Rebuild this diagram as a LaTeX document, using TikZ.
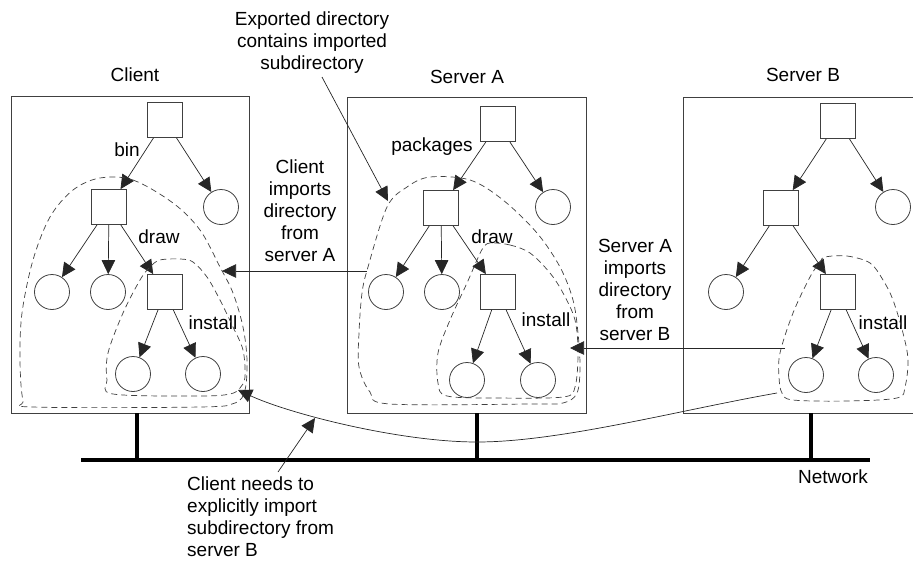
\documentclass[tikz,border=0pt]{standalone}
\usepackage{fontspec}
\setmainfont{Liberation Sans}
\usetikzlibrary{arrows.meta}
\begin{document}
\begin{tikzpicture}[x=1pt,y=-1pt,
  txt/.style={font=\fontsize{19}{22}\selectfont, inner sep=1pt},
  dirnode/.style={draw=black!75, line width=0.8pt, rectangle, minimum size=35pt, inner sep=0pt},
  filenode/.style={draw=black!75, line width=0.8pt, circle, minimum size=35pt, inner sep=0pt},
  tip/.style={-{Triangle[length=14pt,width=13.5pt]}},
  treeedge/.style={draw=black!85, line width=0.7pt, tip},
  note/.style={draw=black!85, line width=0.7pt, tip},
  blob/.style={draw=black!75, line width=0.7pt, dash pattern=on 6pt off 4pt},
  box/.style={draw=black!75, line width=0.8pt},
  net/.style={draw=black, line width=3.2pt}
]
\useasboundingbox (0,0) rectangle (913,562);

% ---------- boxes ----------
\draw[box] (11,96) rectangle (249,413);
\draw[box] (347,97) rectangle (586,413);
\draw[box] (913,97) -- (683,97) -- (683,413) -- (913,413);
\node[txt] (lc) at (135,75) {Client};
\node[txt] (la) at (467,77) {Server A};
\node[txt] (lb) at (803,75) {Server B};

% ---------- client tree ----------
\node[dirnode] (c0) at (165,120) {};
\node[dirnode] (c1) at (109,207) {};
\node[filenode] (c2) at (221,207) {};
\node[filenode] (c3) at (52,292) {};
\node[filenode] (c4) at (108,292) {};
\node[dirnode] (c5) at (165,292) {};
\node[filenode] (c6) at (133,374) {};
\node[filenode] (c7) at (203,374) {};
\draw[treeedge] (c0) -- (c1);
\draw[treeedge] (c0) -- (c2);
\draw[treeedge] (c1) -- (c3);
\draw[treeedge] (c1) -- (c4);
\draw[treeedge] (c1) -- (c5);
\draw[treeedge] (c5) -- (c6);
\draw[treeedge] (c5) -- (c7);
\node[txt] (cbin) at (127,150) {bin};
\node[txt] (cdraw) at (159,237) {draw};
\node[txt] (cinst) at (213,323) {install};

% ---------- server A tree ----------
\node[dirnode] (a0) at (498,124) {};
\node[dirnode] (a1) at (441,208) {};
\node[filenode] (a2) at (553,207) {};
\node[filenode] (a3) at (386,292) {};
\node[filenode] (a4) at (442,292) {};
\node[dirnode] (a5) at (498,292) {};
\node[filenode] (a6) at (467,380) {};
\node[filenode] (a7) at (538,380) {};
\draw[treeedge] (a0) -- (a1);
\draw[treeedge] (a0) -- (a2);
\draw[treeedge] (a1) -- (a3);
\draw[treeedge] (a1) -- (a4);
\draw[treeedge] (a1) -- (a5);
\draw[treeedge] (a5) -- (a6);
\draw[treeedge] (a5) -- (a7);
\node[txt] (apk) at (432,147) {packages};
\node[txt] (adraw) at (492,237) {draw};
\node[txt] (ainst) at (546,320) {install};

% ---------- server B tree ----------
\node[dirnode] (b0) at (838,121) {};
\node[dirnode] (b1) at (781,208) {};
\node[filenode] (b2) at (893,207) {};
\node[filenode] (b3) at (726,292) {};
\node[dirnode] (b5) at (838,292) {};
\node[filenode] (b6) at (806,375) {};
\node[filenode] (b7) at (876,375) {};
\draw[treeedge] (b0) -- (b1);
\draw[treeedge] (b0) -- (b2);
\draw[treeedge] (b1) -- (b3);
\draw[treeedge] (b1) -- (b5);
\draw[treeedge] (b5) -- (b6);
\draw[treeedge] (b5) -- (b7);
\node[txt] (binst) at (883,323) {install};

% ---------- dashed regions ----------
\draw[blob] plot[smooth cycle, tension=0.55] coordinates {(100,178) (133,180) (173,203) (200,230) (220,267) (233,293) (243,327) (247,360) (245,390) (235,403) (200,407) (33,407) (23,400) (20,360) (22,313) (33,260) (50,217) (73,190)};
\draw[blob] plot[smooth cycle, tension=0.55] coordinates {(160,260) (180,259) (193,262) (207,277) (220,300) (233,327) (243,350) (245,377) (240,388) (230,394) (200,396) (113,394) (107,380) (108,353) (123,313) (140,280) (150,267)};
\draw[blob] plot[smooth cycle, tension=0.55] coordinates {(430,177) (470,180) (503,200) (537,233) (560,267) (573,300) (578,333) (580,367) (577,393) (563,403) (530,404) (390,404) (370,392) (359,367) (359,333) (362,293) (368,267) (387,207) (407,187)};
\draw[blob] plot[smooth cycle, tension=0.55] coordinates {(490,243) (510,245) (530,253) (550,273) (563,293) (575,320) (578,353) (575,387) (563,397) (497,398) (447,396) (438,383) (438,353) (450,320) (467,283) (477,260) (483,248)};
\draw[blob] plot[smooth cycle, tension=0.55] coordinates {(825,257) (847,256) (870,263) (883,280) (893,300) (903,333) (908,360) (905,387) (897,398) (847,401) (793,400) (782,393) (779,377) (780,353) (793,313) (810,277) (820,262)};

% ---------- network ----------
\coordinate (nl) at (81,460);
\coordinate (nr) at (870,460);
\coordinate (sc) at (137,413);
\coordinate (sa) at (477,413);
\coordinate (sb) at (811,413);
\draw[net] (nl) -- (nr);
\draw[net] (sc) -- (sc |- nl);
\draw[net] (sa) -- (sa |- nl);
\draw[net] (sb) -- (sb |- nl);
\node[txt] (lnet) at (833,477) {Network};

% ---------- annotations ----------
\node[txt, align=center] (t1) at (312,43) {Exported directory\\contains imported\\subdirectory};
\coordinate (t1e) at (388,201);
\draw[note] (t1.south) ++(10,2) coordinate (t1s) -- (t1e);

\node[txt, align=center] (t2) at (300,211) {Client\\imports\\directory\\from\\server A};
\coordinate (t2s) at (367,271);
\coordinate (t2e) at (222,271);
\draw[note] (t2s) -- (t2e);

\node[txt, align=center] (t3) at (635,290) {Server A\\imports\\directory\\from\\server B};
\coordinate (t3s) at (785,348);
\coordinate (t3e) at (570,348);
\draw[note] (t3s) -- (t3e);

\coordinate (cs) at (777,393);
\coordinate (cm) at (477,442);
\coordinate (ce) at (238,390);
\draw[note] (cs) .. controls (680,410) and (560,442) .. (cm) .. controls (400,442) and (290,414) .. (ce);

\node[txt, align=left, anchor=north west] (t4) at (186,476) {Client needs to\\explicitly import\\subdirectory from\\server B};
\coordinate (t4s) at (278,472);
\coordinate (t4e) at (315,418);
\draw[note] (t4s) -- (t4e);
\end{tikzpicture}
\end{document}
